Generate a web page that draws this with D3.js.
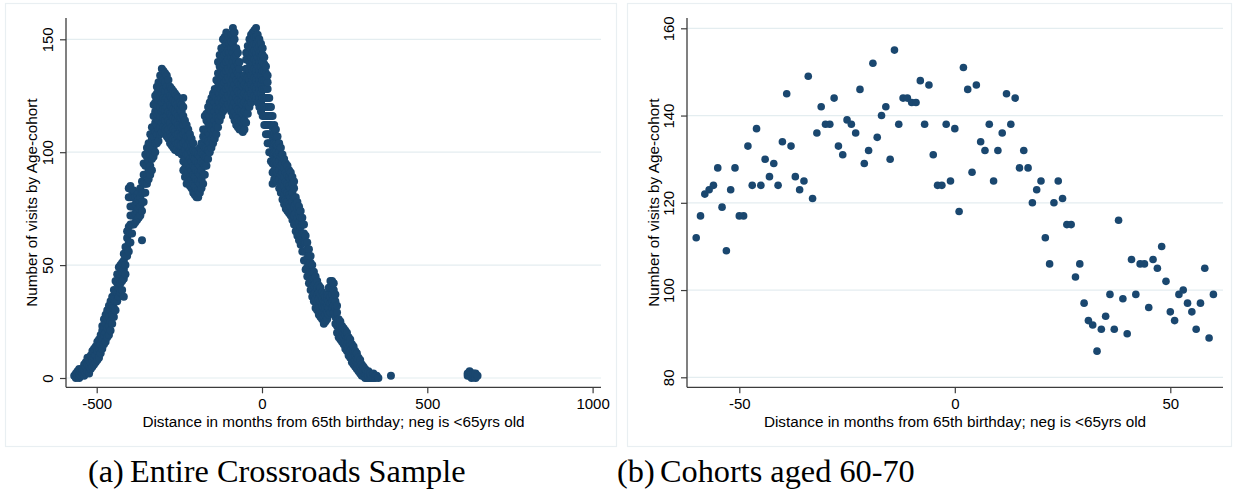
<!DOCTYPE html>
<html><head><meta charset="utf-8">
<script src="https://cdn.jsdelivr.net/npm/d3@7"></script>
<style>body{margin:0;background:#fff}svg{display:block}</style>
</head><body>
<svg id="c" width="1235" height="491"></svg>
<script>
// ---------------- DATA ----------------
const xTitle = "Distance in months from 65th birthday; neg is <65yrs old";
const yTitle = "Number of visits by Age-cohort";
const captionLabels = ["(a)", "(b)"];
const captionTexts = ["Entire Crossroads Sample", "Cohorts aged 60-70"];

const leftXTicks = [-500, 0, 500, 1000];
const leftYTicks = [0, 50, 100, 150];
const rightXTicks = [-50, 0, 50];
const rightYTicks = [80, 100, 120, 140, 160];

// Panel (b): one value per month, months -60 .. 60
const rightFirstMonth = -60;
const rightValues = [
  112,117,122,123,124,128,119,109,123,128,117,117,133,124,137,124,130,126,129,124,
  134,145,133,126,123,125,149,121,136,142,138,138,144,133,131,139,138,136,146,129,
  132,152,135,140,142,130,155,138,144,144,143,143,148,138,147,131,124,124,138,125,
  137,118,151,146,127,147,134,132,138,125,132,136,145,138,144,128,132,128,120,123,
  125,112,106,120,125,121,115,115,103,106,97,93,92,86,91,94,99,91,116,98,
  90,107,99,106,106,96,107,105,110,102,95,93,99,100,97,95,91,97,105,89,99
];

// Panel (a): [month, values observed at (about) that month]
const leftData = [
  [-568,[1]],[-563,[0,2]],[-558,[1,3]],[-553,[0,2,4]],[-548,[1,3]],[-543,[2,4]],
  [-538,[1,3,6]],[-533,[2,5,7]],[-528,[3,6,9]],[-523,[2,5,8]],[-518,[4,7,10]],
  [-513,[5,8,12]],[-508,[6,9,13]],[-503,[7,10,14]],[-498,[8,12,16]],[-493,[9,13,17]],
  [-488,[11,15,19]],[-483,[13,17,21,23]],[-478,[15,19,23,26]],[-473,[16,20,24,28]],
  [-468,[18,22,26,30]],[-463,[19,23,27,32]],[-458,[21,25,30,34]],[-453,[24,28,32,36]],
  [-448,[27,31,35,39]],[-443,[30,34,38,43]],[-438,[34,38,42,46]],[-433,[36,40,44,49]],
  [-428,[38,42,46,50]],[-423,[39,43,47,51]],[-418,[36,44,48,52,55]],[-413,[46,50,54,58]],
  [-408,[54,58,62,65]],[-403,[56,60,64,67,80,84]],[-398,[60,64,68,72,76,80,85]],
  [-393,[64,68,72,76,80,83]],[-388,[68,72,76,80,83]],[-383,[69,73,77,80]],
  [-378,[70,74,78,81]],[-373,[71,75,79,82]],[-368,[72,76,80,84]],[-363,[61,74,78,82,87]],
  [-358,[78,82,86,90,95]],[-353,[82,86,90,94,99]],[-348,[86,90,94,98,102]],
  [-343,[88,92,96,100,104]],[-338,[90,94,99,103,108]],[-333,[92,97,101,106,111]],
  [-328,[98,102,107,111,116,121]],[-323,[100,104,109,113,118,122,125]],
  [-318,[104,108,112,117,121,126,129]],[-313,[105,110,114,118,123,127,131]],
  [-308,[108,111,116,120,125,129,134]],[-303,[109,113,118,122,126,131,134,137]],
  [-298,[111,115,119,124,128,132,136]],[-293,[110,114,119,123,127,131,135]],
  [-288,[107,111,116,120,124,129,134]],[-283,[106,110,114,118,123,127,132]],
  [-278,[104,108,113,117,121,125,129]],[-273,[103,107,111,116,120,124,128]],
  [-268,[102,106,110,115,119,123,127]],[-263,[101,105,109,114,118,122,126]],
  [-258,[101,104,108,113,117,121,125]],[-253,[100,104,108,112,116,120,124]],
  [-248,[100,103,107,111,115,119,122]],[-243,[99,103,107,111,115,118,121]],
  [-238,[92,96,100,104,108,112,116,120,124]],[-233,[89,93,97,101,105,109,114]],
  [-228,[86,90,95,99,103,107,112]],[-223,[87,91,95,99,103,107,110]],
  [-218,[85,89,93,97,101,105,108]],[-213,[84,88,92,96,100,103,106]],
  [-208,[82,86,90,94,98,101,104]],[-203,[81,85,89,93,97,100]],
  [-198,[80,84,88,92,96,100]],[-193,[80,83,87,91,95,99]],
  [-188,[82,86,90,94,98,102]],[-183,[84,88,92,96,100,104]],
  [-178,[86,90,95,99,103,107,110]],[-173,[90,94,98,102,106,110,116]],
  [-168,[94,98,102,106,110,114,117]],[-163,[97,101,105,109,113,117,120]],
  [-158,[100,104,108,112,116,119,122]],[-153,[102,106,110,114,118,121,124]],
  [-148,[104,108,112,116,120,123,126]],[-143,[106,110,114,118,122,125,128]],
  [-138,[108,112,116,120,124,128,132]],[-133,[111,115,119,123,127,131,135,140]],
  [-128,[114,118,122,126,130,134,138,143]],[-123,[116,120,124,128,132,136,140,143,146]],
  [-118,[118,122,126,130,134,138,142,146,150]],[-113,[119,123,127,131,135,139,143,147,151]],
  [-108,[120,124,128,132,136,140,144,148,153]],[-103,[121,125,129,133,137,141,145,149,152]],
  [-98,[120,124,128,132,136,140,144,148,151]],[-93,[118,122,126,130,134,138,142,146,149,152]],
  [-88,[116,120,124,128,132,136,140,144,148,152,155]],[-83,[114,118,122,126,130,134,138,142,146,150,153]],
  [-78,[112,116,120,124,128,132,136,140,143,146]],[-73,[111,115,119,123,127,131,135,139,144]],
  [-68,[110,114,118,122,126,130,134,137,140]],[-63,[110,114,118,122,126,130,133]],
  [-58,[109,113,117,121,125,129,132]],[-53,[110,114,118,122,126,130,134]],
  [-48,[113,117,121,125,129,133,137,141,144]],[-43,[117,121,125,129,133,137,141,144,147]],
  [-38,[120,124,128,132,136,140,144,147,150]],[-33,[122,126,130,134,138,142,146,149,152]],
  [-28,[124,128,132,136,140,144,147,150,153]],[-23,[125,129,133,137,141,145,148,151,154]],
  [-18,[124,128,132,136,140,144,148,151,155]],[-13,[122,126,130,134,138,142,146,149,152]],
  [-8,[120,124,128,132,136,140,144,147,150]],[-3,[118,122,126,130,134,138,142,145,148]],
  [2,[116,120,124,128,132,136,140,143,146]],[7,[112,116,120,124,128,132,136,139,142]],
  [12,[108,112,116,120,124,128,132,135,138]],[17,[104,108,112,116,120,124,128,131,134]],
  [22,[100,104,108,112,116,120,124]],[27,[96,100,104,108,112,116,120]],
  [32,[86,91,95,99,103,107,111,116]],[37,[88,92,96,100,104,108,112]],
  [42,[88,92,96,100,104,107,110]],[47,[87,91,95,99,103,107]],
  [52,[84,88,92,96,100,104]],[57,[82,86,90,94,98,102]],
  [62,[79,83,87,91,95,99]],[67,[77,81,85,89,93,97]],
  [72,[75,79,83,87,91,95]],[77,[74,78,82,86,90,94]],
  [82,[73,77,81,85,89,92]],[87,[72,76,80,84,88,91]],
  [92,[70,74,78,82,86,89]],[97,[68,72,76,80,84,87]],
  [102,[65,69,73,77,80]],[107,[63,67,71,75,78]],[112,[61,65,69,73,76]],
  [117,[59,63,67,71,74]],[122,[56,60,64,68,71]],[127,[52,56,60,64,68]],
  [132,[48,52,56,60,63]],[137,[45,49,53,57,60]],[142,[42,46,50,54,57]],
  [147,[39,43,47,51,54]],[152,[36,40,44,47,50]],[157,[34,37,41,44,47]],
  [162,[31,35,38,42,45]],[167,[30,33,37,40,43]],[172,[28,31,35,38,41]],
  [177,[27,30,34,37,40]],[182,[26,29,32,35,38]],[187,[24,27,31,34,37]],
  [192,[25,28,31,34,36]],[197,[26,29,32,35,37]],[202,[28,31,34,37,40]],
  [207,[29,33,36,40,43]],[212,[31,34,37,40,43]],[217,[29,32,35,39,42]],
  [222,[24,27,31,34,37]],[227,[20,23,26,29,32]],[232,[18,21,24,26]],
  [237,[17,20,23,25]],[242,[16,19,21,23]],[247,[15,18,20,22]],
  [252,[13,16,19,21]],[257,[12,15,18,20]],[262,[10,13,16,18]],
  [267,[9,12,15,17]],[272,[7,10,13,15]],[277,[6,9,12,14]],
  [282,[5,8,10,12]],[287,[4,7,9,11]],[292,[3,6,9]],[297,[2,5,8]],
  [302,[1,4,6]],[307,[1,3,5]],[312,[0,2,4]],[317,[0,2,3]],[322,[0,1,3]],
  [327,[0,2]],[332,[0,1]],[337,[0,2]],[342,[0,1]],[347,[1]],[352,[0]],
  [390,[1]],
  [622,[1,2]],[628,[1,3]],[634,[0,2]],[640,[1,2]],[646,[0,2]],[652,[1]]
];

// ---------------- DRAW ----------------
const svg = d3.select("#c");
const sansFont = "'Liberation Sans', Arial, Helvetica, sans-serif";
const serifFont = "'Liberation Serif', 'Times New Roman', serif";
const markerColor = "#1a476f";
const gridColor = "#e4edf0";
const frameColor = "#e9eff2";
const axisColor = "#3c3c3c";

function drawPanel(o) {
  const g = svg.append("g");
  g.append("rect").attr("x", o.frame[0]).attr("y", o.frame[1])
    .attr("width", o.frame[2]).attr("height", o.frame[3])
    .attr("fill", "none").attr("stroke", frameColor).attr("stroke-width", 1.2);

  const x = d3.scaleLinear().domain(o.xDom).range(o.xRange);
  const y = d3.scaleLinear().domain(o.yDom).range(o.yRange);

  g.append("g").selectAll("line").data(o.yTicks).join("line")
    .attr("x1", o.x0).attr("x2", o.x1)
    .attr("y1", d => y(d)).attr("y2", d => y(d))
    .attr("stroke", gridColor).attr("stroke-width", 1.2);

  g.append("g").selectAll("circle").data(o.points).join("circle")
    .attr("cx", d => x(d[0])).attr("cy", d => y(d[1]))
    .attr("r", o.r).attr("fill", markerColor);

  const xa = g.append("g").attr("transform", `translate(0,${o.yBot})`)
    .call(d3.axisBottom(x).tickValues(o.xTicks).tickSize(6).tickSizeOuter(0).tickFormat(d => String(d)));
  xa.select(".domain").remove();
  xa.selectAll(".tick line").attr("stroke", axisColor).attr("stroke-width", 1.2);
  xa.selectAll(".tick text").attr("y", 21.7).attr("dy", 0)
    .attr("font-family", sansFont).attr("font-size", 15).attr("fill", "#000");

  const ya = g.append("g").attr("transform", `translate(${o.x0},0)`)
    .call(d3.axisLeft(y).tickValues(o.yTicks).tickSize(6).tickSizeOuter(0).tickFormat(d => String(d)));
  ya.select(".domain").remove();
  ya.selectAll(".tick line").attr("stroke", axisColor).attr("stroke-width", 1.2);
  ya.selectAll(".tick text").attr("transform", "rotate(-90)")
    .attr("x", 0).attr("y", -13).attr("dy", 0).attr("text-anchor", "middle")
    .attr("font-family", sansFont).attr("font-size", 15).attr("fill", "#000");

  g.append("line").attr("x1", o.x0).attr("x2", o.x1).attr("y1", o.yBot).attr("y2", o.yBot)
    .attr("stroke", axisColor).attr("stroke-width", 1.3);
  g.append("line").attr("x1", o.x0).attr("x2", o.x0).attr("y1", o.yTop).attr("y2", o.yBot)
    .attr("stroke", axisColor).attr("stroke-width", 1.3);

  g.append("text").attr("x", (o.x0 + o.x1) / 2).attr("y", 427)
    .attr("text-anchor", "middle").attr("font-family", sansFont).attr("font-size", 15.3)
    .attr("fill", "#000").text(xTitle);
  g.append("text").attr("transform", `translate(${o.yTitleX},${(o.yTop + o.yBot) / 2}) rotate(-90)`)
    .attr("text-anchor", "middle").attr("font-family", sansFont).attr("font-size", 15.3)
    .attr("fill", "#000").text(yTitle);

  g.append("text").attr("x", o.capX[0]).attr("y", 482)
    .attr("font-family", serifFont).attr("font-size", 32.3).attr("fill", "#000").text(o.capLabel);
  g.append("text").attr("x", o.capX[1]).attr("y", 482)
    .attr("font-family", serifFont).attr("font-size", 32.3).attr("fill", "#000").text(o.capText);
}

const leftPoints = leftData.flatMap(([m, vals]) => vals.map(v => [m, v]));
const rightPoints = rightValues.map((v, i) => [rightFirstMonth + i, v]);

drawPanel({
  frame: [5.5, 3.5, 611, 443],
  x0: 66, x1: 601, yTop: 18, yBot: 387.3,
  xDom: [-500, 1000], xRange: [96.7, 592.6],
  yDom: [0, 150], yRange: [378, 39.3],
  xTicks: leftXTicks, yTicks: leftYTicks, r: 4.0,
  points: leftPoints, yTitleX: 36.5,
  capLabel: captionLabels[0], capText: captionTexts[0], capX: [88, 130]
});

drawPanel({
  frame: [627.5, 3.5, 604, 443],
  x0: 687, x1: 1223, yTop: 18, yBot: 387.3,
  xDom: [-50, 50], xRange: [739.3, 1170.3],
  yDom: [80, 160], yRange: [377.3, 28.3],
  xTicks: rightXTicks, yTicks: rightYTicks, r: 3.8,
  points: rightPoints, yTitleX: 659,
  capLabel: captionLabels[1], capText: captionTexts[1], capX: [617, 660]
});
</script>
</body></html>
